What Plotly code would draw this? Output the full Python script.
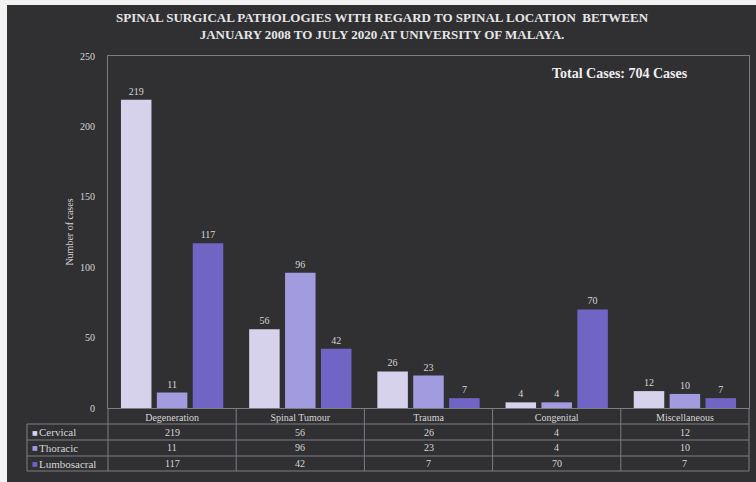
import plotly.graph_objects as go

# Spinal surgical pathologies by location, UMMC Jan 2008 - Jul 2020
categories = ["Degeneration", "Spinal Tumour", "Trauma", "Congenital", "Miscellaneous"]
series_names = ["Cervical", "Thoracic", "Lumbosacral"]
cervical = [219, 56, 26, 4, 12]
thoracic = [11, 96, 23, 4, 10]
lumbosacral = [117, 42, 7, 70, 7]
y_ticks = [0, 50, 100, 150, 200, 250]

series_values = [cervical, thoracic, lumbosacral]
series_colors = ["#d6d2ec", "#a39be0", "#7065c4"]
total_cases = sum(sum(v) for v in series_values)

BG = "#303033"
LINE = "#7c7c84"
TXT = "#d6d6d6"
SERIF = "Liberation Serif"

W, H = 756, 482
L, R, T, B = 108, 7, 56, 74
PW, PH = W - L - R, H - T - B


def px_x(px):
    return (px - L) / PW


def px_y(py):
    return (H - B - py) / PH


fig = go.Figure()
for name, vals, col in zip(series_names, series_values, series_colors):
    fig.add_trace(go.Bar(
        x=categories, y=vals, name=name,
        marker=dict(color=col, line=dict(width=0)),
        text=vals, textposition="outside", cliponaxis=False,
        textfont=dict(family=SERIF, size=10, color=TXT),
    ))

shapes = []
# photo border along the top and left
shapes.append(dict(type="rect", xref="paper", yref="paper", layer="below",
                   x0=px_x(7), x1=px_x(W + 2), y0=px_y(H + 2), y1=px_y(5),
                   fillcolor=BG, line=dict(width=0)))

# data table grid under the plot
row_lines = [424, 440, 456, 471]
for py in row_lines:
    shapes.append(dict(type="line", xref="paper", yref="paper",
                       x0=px_x(27), x1=1, y0=px_y(py), y1=px_y(py),
                       line=dict(color=LINE, width=1)))
shapes.append(dict(type="line", xref="paper", yref="paper",
                   x0=px_x(27), x1=px_x(27), y0=px_y(424), y1=px_y(471),
                   line=dict(color=LINE, width=1)))
for xb in [0, 1]:
    shapes.append(dict(type="line", xref="paper", yref="paper",
                       x0=xb, x1=xb, y0=0, y1=px_y(471),
                       line=dict(color=LINE, width=1)))
for i in range(1, len(categories)):
    shapes.append(dict(type="line", xref="x", yref="paper",
                       x0=i - 0.5, x1=i - 0.5, y0=0, y1=px_y(471),
                       line=dict(color=LINE, width=1)))

annotations = []
row_centers = [432, 448, 463.5]
for name, vals, col, yc in zip(series_names, series_values, series_colors, row_centers):
    # legend key square and series name in the first table column
    annotations.append(dict(
        xref="paper", yref="paper", x=px_x(30), y=px_y(yc),
        xanchor="left", yanchor="middle", showarrow=False,
        text="■", font=dict(family="DejaVu Sans", size=6, color=col),
    ))
    annotations.append(dict(
        xref="paper", yref="paper", x=px_x(37), y=px_y(yc),
        xanchor="left", yanchor="middle", showarrow=False,
        text=name, font=dict(family=SERIF, size=11, color=TXT),
    ))
    for cat, v in zip(categories, vals):
        annotations.append(dict(
            xref="x", yref="paper", x=cat, y=px_y(yc),
            xanchor="center", yanchor="middle", showarrow=False,
            text=str(v), font=dict(family=SERIF, size=10, color=TXT),
        ))

annotations.append(dict(
    xref="paper", yref="paper", x=px_x(620), y=px_y(73),
    xanchor="center", yanchor="middle", showarrow=False,
    text=f"<b>Total Cases: {total_cases} Cases</b>",
    font=dict(family=SERIF, size=14, color="#eeeeee"),
))
annotations.append(dict(
    xref="paper", yref="paper", x=px_x(382), y=px_y(26),
    xanchor="center", yanchor="middle", showarrow=False,
    text="<b>SPINAL SURGICAL PATHOLOGIES WITH REGARD TO SPINAL LOCATION  BETWEEN<br>"
         "JANUARY 2008 TO JULY 2020 AT UNIVERSITY OF MALAYA.</b>",
    font=dict(family=SERIF, size=13, color="#e6e6e6"),
))

fig.update_layout(
    width=W, height=H,
    margin=dict(l=L, r=R, t=T, b=B, pad=0),
    paper_bgcolor="#f2f2f2", plot_bgcolor=BG,
    barmode="group", bargap=0.16, bargroupgap=0.15,
    showlegend=False,
    shapes=shapes, annotations=annotations,
    font=dict(family=SERIF, color=TXT),
)
fig.update_xaxes(
    showline=True, mirror=True, linecolor=LINE, linewidth=1,
    showgrid=False, ticks="", tickfont=dict(family=SERIF, size=10, color=TXT),
    ticklabelstandoff=0,
)
fig.update_yaxes(
    range=[0, 250], tickvals=y_ticks,
    showline=True, mirror=True, linecolor=LINE, linewidth=1,
    showgrid=False, zeroline=False, ticks="",
    tickfont=dict(family=SERIF, size=10, color=TXT), ticklabelstandoff=10,
    title=dict(text="Number of cases", standoff=4,
               font=dict(family=SERIF, size=10, color=TXT)),
)

fig.write_html("out.html")
